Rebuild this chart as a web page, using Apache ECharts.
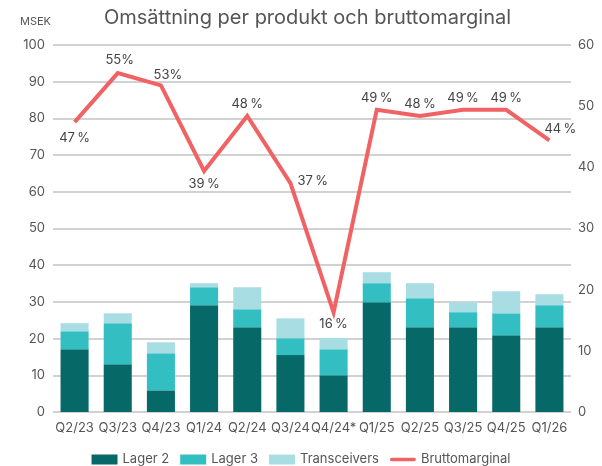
<!DOCTYPE html>
<html>
<head>
<meta charset="utf-8">
<script src="https://cdn.jsdelivr.net/npm/echarts@6/dist/echarts.min.js"></script>
<style>
  html, body { margin: 0; padding: 0; background: #fff; }
  #main { width: 602px; height: 466px; }
</style>
</head>
<body>
<div id="main"></div>
<script>
// kvartal
var categories = ['Q2/23', 'Q3/23', 'Q4/23', 'Q1/24', 'Q2/24', 'Q3/24', 'Q4/24*', 'Q1/25', 'Q2/25', 'Q3/25', 'Q4/25', 'Q1/26'];
// MSEK per produkt
var lager2 = [17.1, 13.0, 5.9, 29.1, 23.1, 15.5, 10.0, 29.9, 23.1, 23.1, 20.9, 23.1];
var lager3 = [4.9, 11.2, 10.1, 4.9, 4.9, 4.6, 7.1, 5.2, 7.9, 4.1, 6.0, 6.0];
var transceivers = [2.2, 2.7, 3.0, 1.1, 6.0, 5.4, 3.1, 3.0, 4.1, 2.7, 6.0, 3.0];
// bruttomarginal i %
var bruttomarginal = [47.4, 55.4, 53.4, 39.4, 48.4, 37.4, 16.3, 49.4, 48.4, 49.4, 49.4, 44.4];

var textColor = '#555';
var labelPos = { 0: 'bottom', 3: 'bottom', 5: 'right', 6: 'bottom' };

var lineData = bruttomarginal.map(function (v, i) {
    var lbl = { position: labelPos[i] || 'top' };
    if (i === 0) lbl.distance = 9;
    if (i === 1) lbl.offset = [2, -1];
    if (i === 2) lbl.offset = [7, 1];
    if (i === 3) lbl.distance = 7;
    if (i === 11) lbl.offset = [11, 0];
    if (i === 5) lbl.offset = [2, -2];
    return { value: v, label: lbl };
});

var option = {
    animation: false,
    textStyle: { fontFamily: 'Inter' },
    title: [{
        text: 'Omsättning per produkt och bruttomarginal',
        left: 99,
        top: 3,
        textStyle: { fontSize: 20, fontWeight: 'normal', color: textColor, fontFamily: 'Inter' }
    }, {
        text: 'MSEK',
        left: 15,
        top: 11,
        textStyle: { fontSize: 11, fontWeight: 'normal', color: textColor, fontFamily: 'Inter' }
    }],
    legend: {
        top: 448,
        left: 'center',
        itemWidth: 26,
        itemHeight: 10,
        itemGap: 11,
        textStyle: { fontSize: 13, color: textColor },
        data: [
            { name: 'Lager 2', icon: 'rect' },
            { name: 'Lager 3', icon: 'rect' },
            { name: 'Transceivers', icon: 'rect' },
            { name: 'Bruttomarginal', icon: 'path://M2,0 L27,0 A2,2 0 0 1 27,4 L2,4 A2,2 0 0 1 2,0 Z' }
        ]
    },
    grid: { left: 53, right: 31, top: 45, bottom: 54 },
    xAxis: {
        type: 'category',
        data: categories,
        axisLine: { show: false },
        axisTick: { show: false },
        axisLabel: { color: textColor, fontSize: 13, margin: 10, interval: 0 }
    },
    yAxis: [{
        type: 'value',
        min: 0, max: 100, interval: 10,
        axisLine: { show: false },
        axisTick: { show: false },
        axisLabel: { color: textColor, fontSize: 13, margin: 8 },
        splitLine: { lineStyle: { color: '#d2d2d2', width: 2 } }
    }, {
        type: 'value',
        min: 0, max: 60, interval: 10,
        axisLine: { show: false },
        axisTick: { show: false },
        axisLabel: { color: textColor, fontSize: 13, margin: 7 },
        splitLine: { show: false }
    }],
    series: [{
        name: 'Lager 2',
        type: 'bar',
        stack: 'oms',
        barWidth: '65%',
        itemStyle: { color: '#066967' },
        data: lager2
    }, {
        name: 'Lager 3',
        type: 'bar',
        stack: 'oms',
        itemStyle: { color: '#33bec1' },
        data: lager3
    }, {
        name: 'Transceivers',
        type: 'bar',
        stack: 'oms',
        itemStyle: { color: '#a9dde4' },
        data: transceivers
    }, {
        name: 'Bruttomarginal',
        type: 'line',
        yAxisIndex: 1,
        symbol: 'circle',
        symbolSize: 0.1,
        showSymbol: true,
        z: 5,
        lineStyle: { color: '#f06264', width: 4, join: 'miter' },
        itemStyle: { color: '#f06264' },
        label: {
            show: true,
            color: '#444',
            fontSize: 13,
            formatter: function (p) {
                var sep = (p.dataIndex === 1 || p.dataIndex === 2) ? '' : '\u2009';
                return Math.round(p.value) + sep + '%';
            }
        },
        data: lineData
    }]
};

var myChart = echarts.init(document.getElementById('main'));
myChart.setOption(option);
</script>
</body>
</html>
